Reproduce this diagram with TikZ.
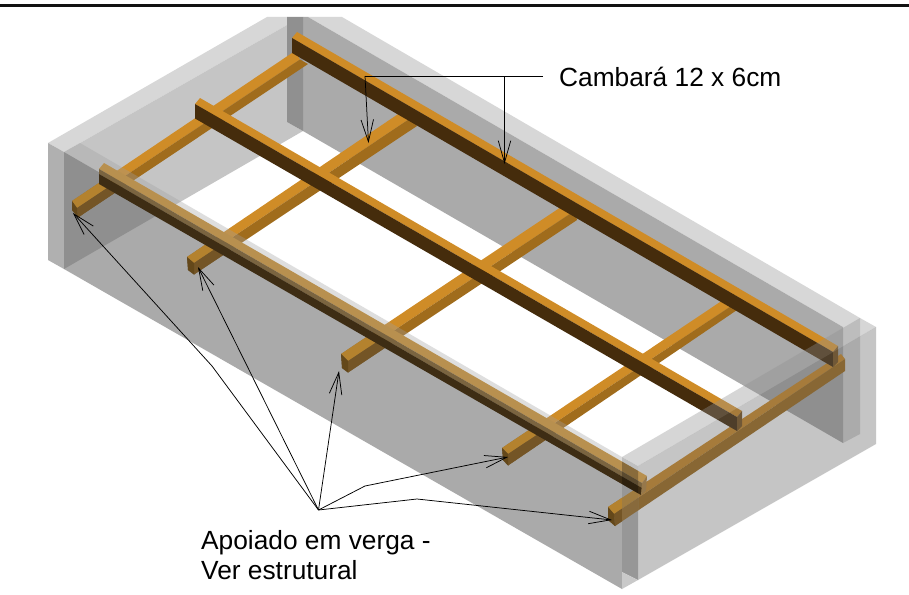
\documentclass[tikz,border=0pt]{standalone}
\usepackage{fontspec}
\setmainfont{Liberation Sans}
\usetikzlibrary{arrows.meta}
\definecolor{bandgray}{HTML}{D7D7D7}
\definecolor{wallgray}{HTML}{AAAAAA}
\definecolor{innergray}{HTML}{C5C5C5}
\definecolor{darkgray}{HTML}{909090}
\definecolor{postgray}{HTML}{979797}
\definecolor{leftgray}{HTML}{B0B0B0}
\definecolor{woodtop}{HTML}{CF8C27}
\definecolor{woodside}{HTML}{A06C1C}
\definecolor{woodend}{HTML}{7A5420}
\definecolor{longside}{HTML}{452C0C}
\definecolor{outertop}{HTML}{B4822E}
\definecolor{outerside}{HTML}{745526}
\definecolor{outerend}{HTML}{64481A}
\definecolor{posttop}{RGB}{160,124,64}
\definecolor{postside}{RGB}{136,106,60}
\definecolor{fronttop}{RGB}{184,144,79}
\definecolor{frontstripe}{RGB}{122,100,64}
\definecolor{frontside}{RGB}{62,45,20}
\definecolor{frontend}{RGB}{150,120,75}
\definecolor{washdark}{RGB}{96,96,96}
\definecolor{washmid}{RGB}{160,160,160}
\definecolor{washlight}{RGB}{145,145,145}
\tikzset{
  leader/.style={draw=black,line width=0.75pt},
  barbed/.style={leader,-{Straight Barb[length=22pt,width=12.5pt,line width=0.75pt]}},
  labeltext/.style={inner sep=0pt,font=\fontsize{26.3}{30}\selectfont,text=black},
  washfront/.style={fill=washdark,fill opacity=0.535},
  washfrontband/.style={fill=washmid,fill opacity=0.345},
  washright/.style={fill=washdark,fill opacity=0.365},
  washrightband/.style={fill=washlight,fill opacity=0.365}
}
\newcommand{\crossbeam}[4]{%
  \fill[#2] (#1a)--(#1b)--(#1f)--(#1e)--cycle;
  \fill[#3] (#1b)--(#1c)--(#1g)--(#1f)--cycle;
  \fill[#4] (#1a)--(#1b)--(#1c)--(#1d)--cycle;}
\newcommand{\crosspts}[8]{%
  \coordinate (#1a) at #2; \coordinate (#1b) at #3; \coordinate (#1c) at #4;
  \coordinate (#1d) at #5; \coordinate (#1e) at #6; \coordinate (#1f) at #7;
  \coordinate (#1g) at #8;}
\begin{document}
\begin{tikzpicture}[x=1pt,y=-1pt]
\useasboundingbox (0,0) rectangle (909,594);
\fill[white] (0,0) rectangle (909,594);
\fill[black!93] (0,4) rectangle (909,6.8);
% back parts
\fill[bandgray] (48,143)--(267,17)--(287,17)--(287,25)--(80,143)--(64,152)--cycle;
\fill[leftgray] (48,143)--(64,152)--(64,269)--(48,260)--cycle;
\fill[innergray] (80,143)--(287,25)--(287,122)--(303,131)--(64,269)--(64,152)--cycle;
\fill[bandgray] (342,17)--(860,318)--(860,434)--(843,443)--(843,327)--(308,17)--cycle;
\fill[wallgray] (303,17)--(308,17)--(843,327)--(843,443)--(303,131)--cycle;
\fill[darkgray] (287,17)--(303,17)--(303,131)--(287,122)--cycle;
% cross beams
\crosspts{ca}{(72,201)}{(77,208)}{(78,217.5)}{(72,210)}{(295,51)}{(300,59.5)}{(308,64)}
\crosspts{cb}{(187,257)}{(194,263)}{(194,274.5)}{(188,270)}{(410,106)}{(410,118.5)}{(417,126)}
\crosspts{cc}{(341,354)}{(348,361)}{(348,372.5)}{(342,368)}{(570,201)}{(575,210.5)}{(577,220)}
\crosspts{cd}{(502,448)}{(508,454)}{(508,465.5)}{(503,460)}{(735,292)}{(735,303.5)}{(737,310)}
\crosspts{ce}{(608,507)}{(614,514)}{(615,526)}{(608,520)}{(841,354)}{(845,359)}{(845,371)}
\crossbeam{ca}{woodtop}{woodside}{woodend}
\crossbeam{cb}{woodtop}{woodside}{woodend}
\crossbeam{cc}{woodtop}{woodside}{woodend}
\crossbeam{cd}{woodtop}{woodside}{woodend}
\crossbeam{ce}{woodtop}{woodside}{woodend}
% long beams
\fill[woodtop] (297,32)--(838,346)--(833,352)--(292,38)--cycle;
\fill[longside] (292,38)--(833,352)--(833,367)--(292,53)--cycle;
\fill[woodend] (838,346)--(833,352)--(833,367)--(838,362)--cycle;
\fill[woodtop] (200,98)--(742,411)--(737,417)--(195,104)--cycle;
\fill[longside] (195,104)--(737,417)--(737,431)--(195,118.5)--cycle;
\fill[woodend] (742,411)--(737,417)--(737,431)--(742,426)--cycle;
% translucent walls
\fill[washfront] (64,152)--(622,474)--(622,589)--(64,269)--cycle;
\fill[washfrontband] (80,143)--(622,457)--(622,474)--(64,152)--cycle;
\fill[washright] (638,466)--(876,327)--(876,444)--(638,580)--cycle;
\fill[washrightband] (622,457)--(860,318)--(876,327)--(638,466)--cycle;
% corner post
\fill[black!25] (622,457)--(638,466)--(638,483)--(622,474)--cycle;
\fill[postgray] (622,474)--(638,483)--(638,580)--(622,572)--cycle;
\fill[black!21] (622,572)--(638,580)--(622,589)--cycle;
% outer ends of the cross beams
\begin{scope}
\clip (0,116)--(909,640)--(0,640)--cycle;
\crossbeam{ca}{outertop}{outerside}{outerend}
\crossbeam{cb}{outertop}{outerside}{outerend}
\crossbeam{cc}{outertop}{outerside}{outerend}
\crossbeam{cd}{outertop}{outerside}{outerend}
\end{scope}
\begin{scope}
\clip (600,480) rectangle (622,540);
\crossbeam{ce}{outertop}{outerside}{outerend}
\end{scope}
\begin{scope}
\clip (622,470) rectangle (638,540);
\crossbeam{ce}{posttop}{postside}{outerend}
\end{scope}
% front long beam
\fill[fronttop] (104,163)--(647,476)--(642,483)--(99,169)--cycle;
\fill[frontstripe] (99,169)--(642,483)--(642,488)--(99,174)--cycle;
\fill[frontside] (99,174)--(642,488)--(641,495)--(99,184)--cycle;
\fill[frontend] (647,476)--(642,483)--(641,495)--(646,491)--cycle;
\begin{scope}
\clip (622,457) rectangle (638,500);
\fill[black,fill opacity=0.25] (104,163)--(647,476)--(641,495)--(99,184)--cycle;
\end{scope}
% leaders
\coordinate (camstart) at (543,76);
\coordinate (camleft) at (365,76);
\coordinate (camright) at (504.5,76);
\coordinate (camtipa) at (368.5,143);
\coordinate (camtipb) at (504.5,164);
\coordinate (apex) at (318.5,510);
\coordinate (knee1) at (212,366);
\coordinate (tip1) at (73,213);
\coordinate (tip2) at (198,267);
\coordinate (tip3) at (339,371);
\coordinate (knee4) at (365,486);
\coordinate (tip4) at (508,457);
\coordinate (knee5) at (417,499);
\coordinate (tip5) at (612,520);
\draw[leader] (camstart)--(camleft);
\draw[barbed] (camleft)--(camtipa);
\draw[barbed] (camright)--(camtipb);
\draw[barbed] (apex)--(knee1)--(tip1);
\draw[barbed] (apex)--(tip2);
\draw[barbed] (apex)--(tip3);
\draw[barbed] (apex)--(knee4)--(tip4);
\draw[barbed] (apex)--(knee5)--(tip5);
% labels
\node[labeltext,anchor=base west] (cambara) at (559,86) {Cambará 12 x 6cm};
\node[labeltext,anchor=base west] (apoiado) at (201,549) {Apoiado em verga -};
\node[labeltext,anchor=base west] (ver) at (201,579) {Ver estrutural};
\end{tikzpicture}
\end{document}
